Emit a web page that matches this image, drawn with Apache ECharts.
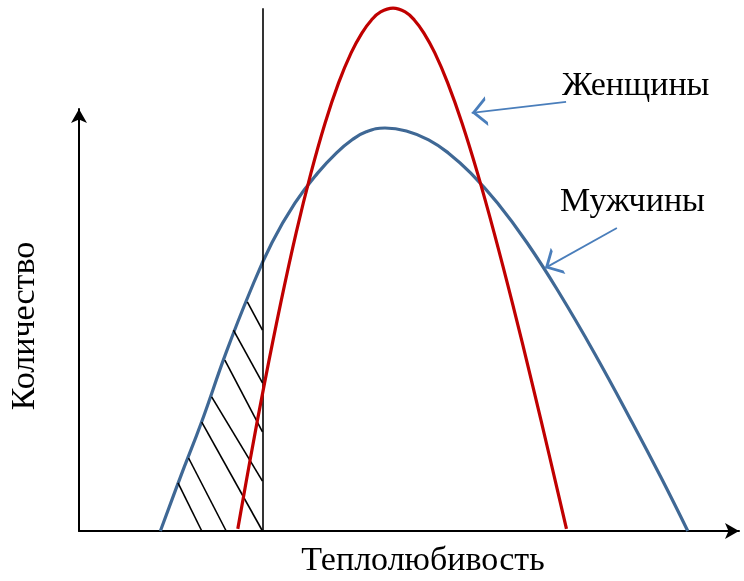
<!DOCTYPE html>
<html>
<head>
<meta charset="utf-8">
<script src="https://cdn.jsdelivr.net/npm/echarts@6/dist/echarts.min.js"></script>
<style>html,body{margin:0;padding:0;background:#fff}#c{width:744px;height:581px}</style>
</head>
<body>
<div id="c"></div>
<script>
// Женщины (red curve): [x, count]
const womenX = [24.06, 25.98, 28.12, 30.56, 32.89, 35.14, 37.29, 39.33, 41.23, 42.86, 44.32, 45.70, 47.58,
                49.42, 50.80, 52.26, 53.91, 55.86, 58.03, 60.38, 62.91, 65.67, 68.64, 71.35, 73.86];
const womenY = [0.5, 17.3, 35.1, 54.0, 70.6, 84.8, 96.7, 106.2, 113.3, 118.0, 121.1, 123.0, 123.9,
                123.0, 121.1, 118.0, 113.3, 106.2, 96.7, 84.8, 70.6, 54.0, 35.1, 17.3, 0.5];
// Мужчины (blue curve)
const menX = [12.33, 15.32, 18.52, 22.27, 25.83, 29.23, 32.71, 36.15, 39.02, 41.38, 43.52, 46.36,
              49.60, 52.97, 55.95, 59.36, 63.41, 67.88, 72.77, 78.08, 83.86, 88.21, 92.24];
const menY = [0, 12.6, 25.6, 42.2, 56.4, 68.3, 77.7, 84.8, 89.6, 92.7, 94.6, 95.5,
              94.8, 92.7, 89.6, 84.8, 77.7, 68.3, 56.4, 42.2, 25.6, 12.6, 0];
// threshold line
const thresholdX = 27.8;
const thresholdTop = 123.9;
// hatch segments [x1, y1, x2, y2]
const hatch = [
  [25.5, 54.3, 27.8, 47.6],
  [23.4, 47.6, 27.8, 35.1],
  [22.1, 40.5, 27.8, 23.5],
  [20.1, 31.8, 27.8, 11.8],
  [18.6, 25.8, 27.8, 0],
  [16.6, 17.3, 22.3, 0],
  [15.0, 11.4, 18.6, 0]
];
// annotation arrows [fromX, fromY, toX, toY]
const womenArrow = [73.8, 101.7, 59.5, 99.1];
const menArrow = [81.5, 71.8, 70.6, 62.3];
const labels = { women: 'Женщины', men: 'Мужчины', x: 'Теплолюбивость', y: 'Количество' };

const zip = (xs, ys) => xs.map((x, i) => [x, ys[i]]);
const FONT = '"Liberation Serif", "Times New Roman", serif';
// open chevron whose tip sits at the symbol centre
const chevron = 'path://M6,0 L6.01,0 M0,24 L6,12 L12,24 L10.4,24 L6,15.2 L1.6,24 Z';

const chart = echarts.init(document.getElementById('c'), null, { renderer: 'canvas' });
chart.setOption({
  animation: false,
  backgroundColor: '#ffffff',
  grid: { left: 79, right: 5, top: 109, bottom: 50, containLabel: false, outerBoundsMode: 'none' },
  xAxis: {
    type: 'value', min: 0, max: 100,
    name: labels.x, nameLocation: 'middle', nameGap: 13,
    nameTextStyle: { fontFamily: FONT, fontSize: 34, color: '#000', padding: [0, 0, 0, 28], verticalAlign: 'top' },
    axisLine: { show: true, lineStyle: { color: '#000', width: 2 }, symbol: ['none', 'arrow'], symbolSize: [12, 14] },
    axisTick: { show: false }, axisLabel: { show: false }, splitLine: { show: false }
  },
  yAxis: {
    type: 'value', min: 0, max: 100,
    name: labels.y, nameLocation: 'middle', nameGap: 37,
    nameTextStyle: { fontFamily: FONT, fontSize: 34, color: '#000', padding: [0, 12, 0, 0] },
    axisLine: { show: true, lineStyle: { color: '#000', width: 2 }, symbol: ['none', 'arrow'], symbolSize: [12, 14] },
    axisTick: { show: false }, axisLabel: { show: false }, splitLine: { show: false }
  },
  series: [
    {
      type: 'line', name: labels.men, data: zip(menX, menY), smooth: 0.45, showSymbol: false, clip: false,
      lineStyle: { color: '#3f6895', width: 3.2 }, z: 2
    },
    {
      type: 'lines', coordinateSystem: 'cartesian2d', clip: false, symbol: ['none', 'none'],
      data: hatch.map(h => ({ coords: [[h[0], h[1]], [h[2], h[3]]] })),
      lineStyle: { color: '#000', width: 1.6, opacity: 1 }, z: 3
    },
    {
      type: 'lines', coordinateSystem: 'cartesian2d', clip: false, symbol: ['none', 'none'],
      data: [{ coords: [[thresholdX, 0], [thresholdX, thresholdTop]] }],
      lineStyle: { color: '#000', width: 1.6, opacity: 1 }, z: 3
    },
    {
      type: 'line', name: labels.women, data: zip(womenX, womenY), smooth: 0.4, showSymbol: false, clip: false,
      lineStyle: { color: '#c00000', width: 3.2 }, z: 4
    },
    {
      type: 'lines', coordinateSystem: 'cartesian2d', clip: false,
      symbol: ['none', chevron], symbolSize: [15, 30],
      data: [womenArrow, menArrow].map(a => ({ coords: [[a[0], a[1]], [a[2], a[3]]] })),
      lineStyle: { color: '#4a7ebb', width: 1.8, opacity: 1 }, itemStyle: { color: '#4a7ebb' }, z: 5
    }
  ],
  graphic: [
    { type: 'text', left: 562, top: 69, style: { text: labels.women, font: '34px ' + FONT, fill: '#000' } },
    { type: 'text', left: 560, top: 185, style: { text: labels.men, font: '34px ' + FONT, fill: '#000' } }
  ]
});
</script>
</body>
</html>
